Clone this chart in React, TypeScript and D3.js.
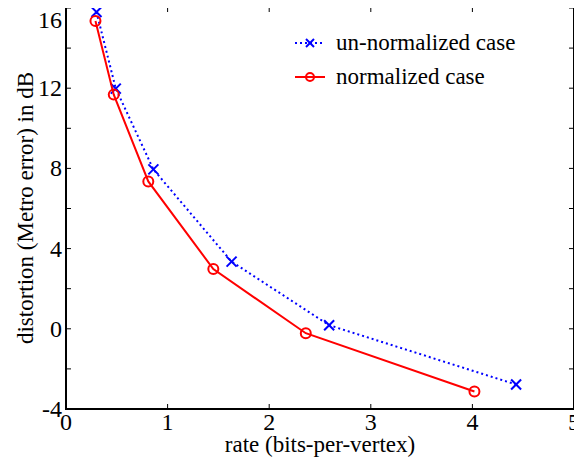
import * as d3 from 'd3';

const unnormRate = [0.3, 0.49, 0.86, 1.63, 2.59, 4.43];
const unnormDist = [15.8, 11.98, 7.95, 3.35, 0.18, -2.78];
const normRate = [0.29, 0.47, 0.81, 1.45, 2.36, 4.02];
const normDist = [15.35, 11.68, 7.35, 2.98, -0.22, -3.13];
const xTicks = [0, 1, 2, 3, 4, 5];
const yTicks = [-4, -2, 0, 2, 4, 6, 8, 10, 12, 14, 16];
const yLabels = [-4, 0, 4, 8, 12, 16];

const W = 582;
const H = 461;
const m = { left: 66, right: 8, top: 7, bottom: 52 };
const FONT = '"Liberation Serif", "Times New Roman", Times, serif';
const OFF = 8; // body margin

const App = () => {
  const x = d3.scaleLinear().domain([0, 5]).range([m.left, W - m.right]);
  const y = d3.scaleLinear().domain([-4, 16.05]).range([H - m.bottom, m.top]);

  const path = (xs: number[], ys: number[]) =>
    d3
      .line<number>()
      .x(d => x(xs[d]))
      .y(d => y(ys[d]))(d3.range(xs.length)) || '';

  const x0 = x(0), x1 = x(5), yb = y(-4), yt = m.top;
  const tick = 5;

  const cross = (cx: number, cy: number, s = 5, key?: any) => (
    <g key={key} stroke="#0000ff" strokeWidth={2}>
      <line x1={cx - s} y1={cy - s} x2={cx + s} y2={cy + s} />
      <line x1={cx - s} y1={cy + s} x2={cx + s} y2={cy - s} />
    </g>
  );

  return (
    <svg
      width={W - OFF}
      height={H - OFF}
      overflow="visible"
      style={{ display: 'block', overflow: 'visible', fontFamily: FONT }}
    >
      <style>{`text { font-family: ${FONT}; }`}</style>
      <g transform={`translate(${-OFF},${-OFF})`}>
        {/* ticks */}
        <g stroke="#000" strokeWidth={1}>
          {xTicks.map(t => (
            <g key={'x' + t}>
              <line x1={x(t)} x2={x(t)} y1={yb} y2={yb - tick} />
              <line x1={x(t)} x2={x(t)} y1={yt} y2={yt + tick} />
            </g>
          ))}
          {yTicks.map(t => (
            <g key={'y' + t}>
              <line x1={x0} x2={x0 + tick} y1={y(t)} y2={y(t)} />
              <line x1={x1} x2={x1 - tick} y1={y(t)} y2={y(t)} />
            </g>
          ))}
        </g>
        <rect x={x0} y={yt} width={x1 - x0} height={yb - yt} fill="none" stroke="#000" strokeWidth={2} />
        {xTicks.map(t => (
          <text key={'xl' + t} x={x(t)} y={yb + 21} textAnchor="middle" fontSize={24}>
            {t}
          </text>
        ))}
        {yLabels.map(t => (
          <text key={'yl' + t} x={x0 - 4} y={Math.max(y(t), 20) + 8} textAnchor="end" fontSize={24}>
            {t}
          </text>
        ))}
        <text x={(x0 + x1) / 2} y={H - 9} textAnchor="middle" fontSize={23}>
          rate (bits-per-vertex)
        </text>
        <text transform={`translate(33,${(yt + yb) / 2}) rotate(-90)`} textAnchor="middle" fontSize={23}>
          distortion (Metro error) in dB
        </text>
        {/* series */}
        <path d={path(unnormRate, unnormDist)} fill="none" stroke="#0000ff" strokeWidth={2} strokeDasharray="2,3" />
        {unnormRate.map((r, i) => cross(x(r), y(unnormDist[i]), 5, 'c' + i))}
        <path d={path(normRate, normDist)} fill="none" stroke="#ff0000" strokeWidth={2} />
        {normRate.map((r, i) => (
          <circle key={'o' + i} cx={x(r)} cy={y(normDist[i])} r={5} fill="none" stroke="#ff0000" strokeWidth={2} />
        ))}
        {/* legend */}
        <line x1={295} x2={325} y1={43} y2={43} stroke="#0000ff" strokeWidth={2} strokeDasharray="2,3" />
        {cross(310, 43, 4)}
        <text x={336} y={50} fontSize={23}>un-normalized case</text>
        <line x1={295} x2={325} y1={77} y2={77} stroke="#ff0000" strokeWidth={2} />
        <circle cx={310} cy={77} r={4} fill="none" stroke="#ff0000" strokeWidth={2} />
        <text x={336} y={84} fontSize={23}>normalized case</text>
      </g>
    </svg>
  );
};

export default App;
